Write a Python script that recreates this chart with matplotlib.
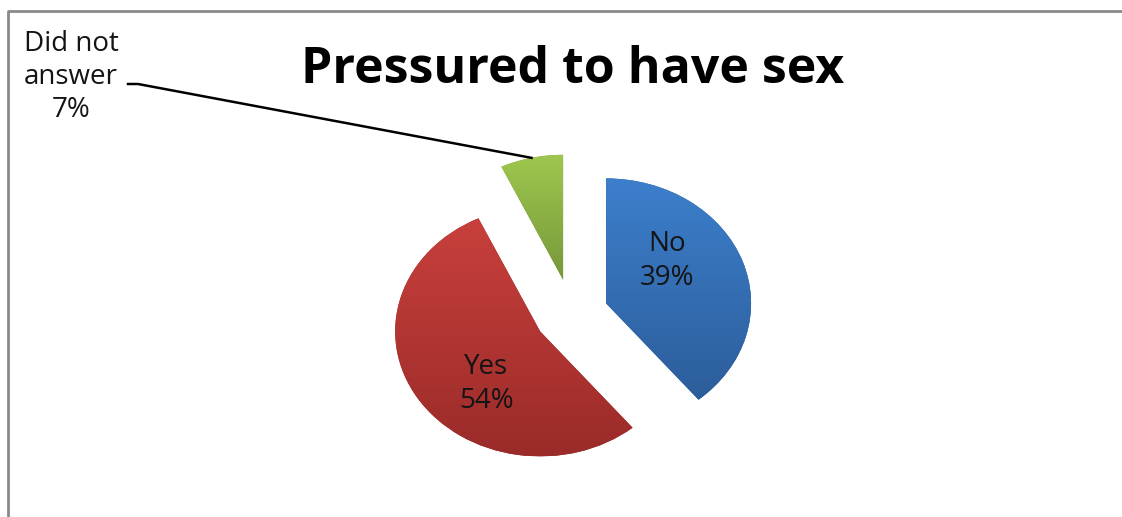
import numpy as np
import matplotlib
matplotlib.use('Agg')
import matplotlib.pyplot as plt
from matplotlib.colors import LinearSegmentedColormap
from matplotlib.lines import Line2D

# data
categories = ['No', 'Yes', 'Did not answer']
percent = [39, 54, 7]
explode = [0.25, 0.26, 0.28]
top_colors = ['#3c7fcc', '#c8403c', '#9fc74e']
bottom_colors = ['#2c5d9a', '#9a2b29', '#76983a']

plt.rcParams['font.family'] = ['Open Sans', 'DejaVu Sans']

W, H = 1122, 517
fig = plt.figure(figsize=(W / 100, H / 100), dpi=100)

# pie axes: one unit is 145 px wide and 125 px tall -> slightly flattened pie
rx, ry = 145, 125
cx, cy = 572, 314
lim = 1.6
ax = fig.add_axes([(cx - lim * rx) / W, (H - cy - lim * ry) / H,
                   2 * lim * rx / W, 2 * lim * ry / H])
wedges, _ = ax.pie(percent, explode=explode, startangle=90, counterclock=False,
                   radius=1, wedgeprops=dict(linewidth=0))

# vertical gradient fill clipped to each wedge
grad = np.linspace(0, 1, 256).reshape(-1, 1)
for w, ct, cb in zip(wedges, top_colors, bottom_colors):
    w.set_facecolor(cb)
    bb = w.get_path().get_extents()
    cmap = LinearSegmentedColormap.from_list('g', [cb, ct])
    im = ax.imshow(grad, cmap=cmap, origin='lower', aspect='auto',
                   extent=(bb.x0, bb.x1, bb.y0, bb.y1), zorder=3)
    im.set_clip_path(w)

ax.set_aspect('auto')
ax.set_xlim(-lim, lim)
ax.set_ylim(-lim, lim)
ax.axis('off')

# labels inside the two big slices
label_offsets = {'No': (0.42, 0.34), 'Yes': (-0.37, -0.42)}
for w, name, p in zip(wedges, categories, percent):
    if name in label_offsets:
        dx, dy = label_offsets[name]
        ax.text(w.center[0] + dx, w.center[1] + dy, f'{name}\n{p}%',
                ha='center', va='center', fontsize=20, color='#141414',
                linespacing=1.25, zorder=5)

# outside label for the small slice with a leader line
fig.text(71 / W, 1 - 77 / H, f'Did not\nanswer\n{percent[2]}%', ha='center', va='center',
         fontsize=20, color='#141414', linespacing=1.25)
g = wedges[2]
t = np.deg2rad((g.theta1 + g.theta2) / 2)
anchor = ax.transData.transform((g.center[0] + g.r * np.cos(t), g.center[1] + g.r * np.sin(t)))
ax_, ay_ = fig.transFigure.inverted().transform(anchor)
fig.add_artist(Line2D([128 / W, 138 / W, ax_], [1 - 84 / H, 1 - 84 / H, ay_],
                      color='black', lw=1.8))

# title
fig.text(573 / W, 1 - 70 / H, 'Pressured to have sex', ha='center', va='center',
         fontsize=36, fontweight='bold', color='black')

# chart frame (only top and left edges visible)
fig.add_artist(Line2D([8 / W, 8 / W, 1], [0, 1 - 11 / H, 1 - 11 / H], color='#8a8a8a', lw=2))

fig.savefig('out.png', dpi=100)
